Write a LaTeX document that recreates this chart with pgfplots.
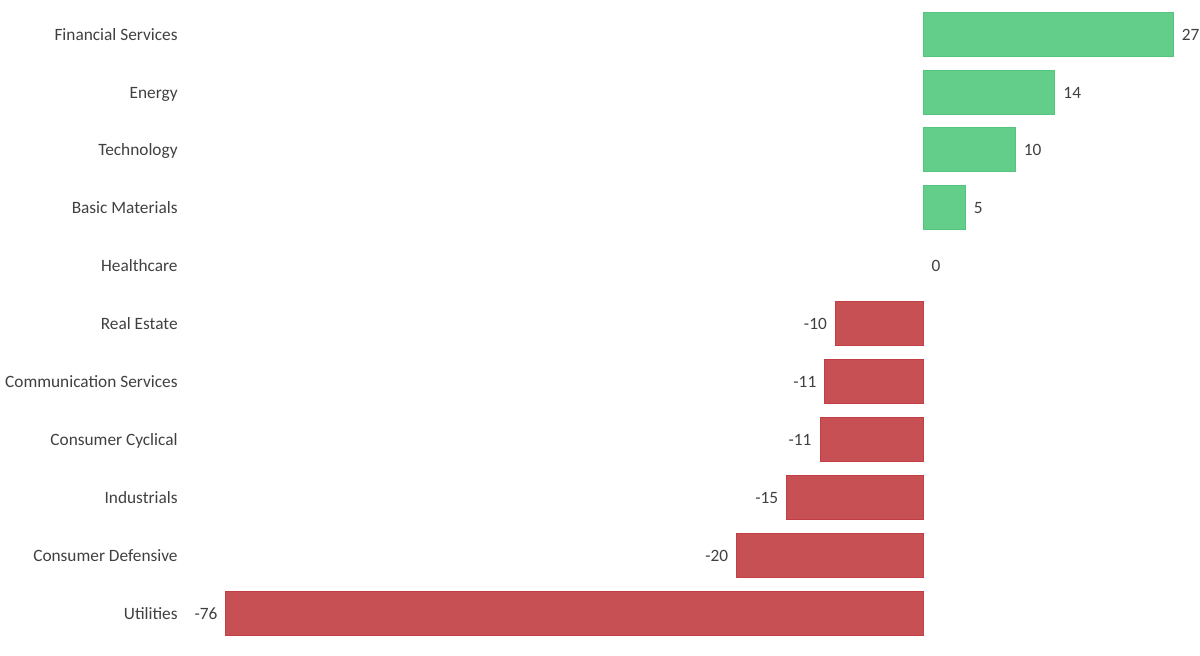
\documentclass[border=0pt]{standalone}
\usepackage{pgfplots}
\pgfplotsset{compat=1.18}
\usepackage{pgfplotstable}
\usepackage{fontspec}
\setmainfont{Carlito}
\definecolor{posfill}{HTML}{62CE89}
\definecolor{posdraw}{HTML}{55C47E}
\definecolor{negfill}{HTML}{C75055}
\definecolor{negdraw}{HTML}{C43E45}
\definecolor{txt}{HTML}{404040}
\pgfplotstableread{
y x label
10 27.26 27
9 14.36 14
8 10.03 10
7 4.58 5
}\pos
\pgfplotstableread{
y x label
6 0 0
}\zero
\pgfplotstableread{
y x label
5 -9.6 -10
4 -10.75 -11
3 -11.27 -11
2 -14.9 -15
1 -20.35 -20
0 -76.07 -76
}\negs
\begin{document}
\begin{tikzpicture}
\begin{axis}[
  at={(0,0)}, anchor=south west,
  scale only axis, width=507pt, height=328pt,
  xbar, bar width=22pt, bar shift=0pt,
  xmin=-80.75, xmax=29.85, ymin=-0.74, ymax=10.59,
  axis line style={draw=none},
  xtick=\empty,
  ytick={0,...,10},
  yticklabels={Utilities,Consumer Defensive,Industrials,Consumer Cyclical,Communication Services,Real Estate,Healthcare,Basic Materials,Technology,Energy,Financial Services},
  major tick length=0pt, ytick style={draw=none},
  yticklabel style={font=\fontsize{8.65}{10}\selectfont, text=txt, inner sep=0pt, xshift=-2.5pt, anchor=east, text height=6pt, text depth=0pt},
  nodes near coords style={font=\fontsize{8.65}{10}\selectfont, text=txt, inner xsep=4pt, inner ysep=0pt, text height=6pt, text depth=0pt},
  clip=false,
]
\addplot[fill=posfill, draw=posdraw, line width=0.5pt, nodes near coords, point meta=explicit symbolic, nodes near coords style={anchor=west}] table[x=x,y=y,meta=label]{\pos};
\addplot[draw=none, fill=none, nodes near coords, point meta=explicit symbolic, nodes near coords style={anchor=west}] table[x=x,y=y,meta=label]{\zero};
\addplot[fill=negfill, draw=negdraw, line width=0.5pt, nodes near coords, point meta=explicit symbolic, nodes near coords style={anchor=east}] table[x=x,y=y,meta=label]{\negs};
\end{axis}
\pgfresetboundingbox
\useasboundingbox (-91.5pt,0pt) rectangle (508.5pt,328pt);
\end{tikzpicture}
\end{document}
